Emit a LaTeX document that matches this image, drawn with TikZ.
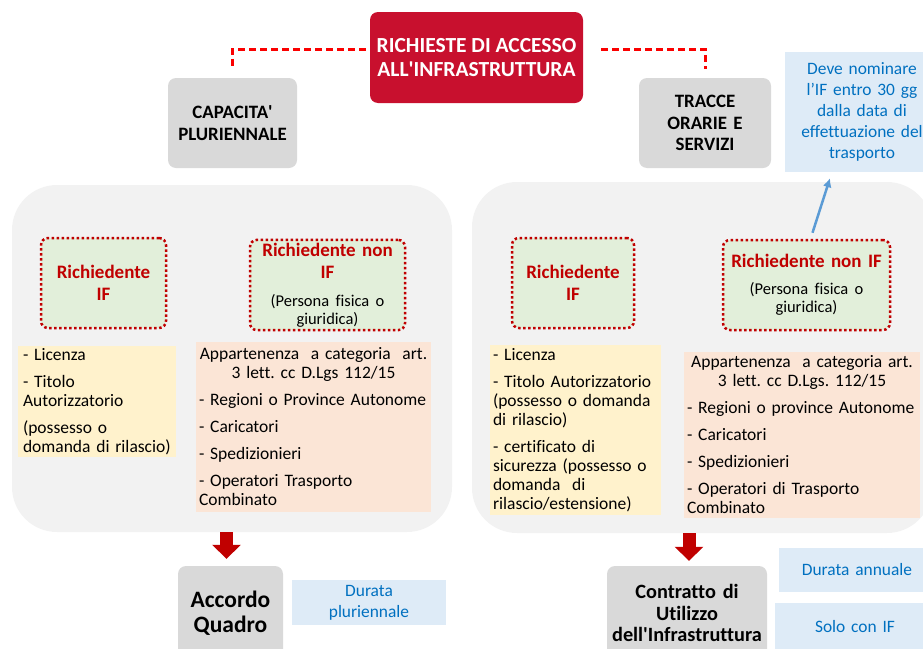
\documentclass[tikz,border=0pt]{standalone}
\usepackage{fontspec}
\setmainfont{Carlito}[Ligatures=NoCommon]
\usetikzlibrary{arrows.meta}
\frenchspacing
\hyphenpenalty=10000
\exhyphenpenalty=10000

\definecolor{titlered}{RGB}{200,16,46}
\definecolor{linkred}{RGB}{250,0,0}
\definecolor{dred}{RGB}{192,0,0}
\definecolor{boxgray}{RGB}{217,217,217}
\definecolor{panelgray}{RGB}{242,242,242}
\definecolor{richfill}{RGB}{226,239,218}
\definecolor{yellowfill}{RGB}{255,242,204}
\definecolor{peachfill}{RGB}{251,229,214}
\definecolor{notefill}{RGB}{222,235,247}
\definecolor{notetext}{RGB}{0,112,192}
\definecolor{arrowblue}{RGB}{91,155,213}

\begin{document}
\begin{tikzpicture}[x=1pt,y=-1pt,
    panel/.style={fill=panelgray,rounded corners=45pt},
    graybox/.style={fill=boxgray,rounded corners=8pt,align=center,inner xsep=2pt},
    richbox/.style={draw=dred,line width=2.5pt,dash pattern=on 2.5pt off 2.5pt,
        rounded corners=7pt,fill=richfill,align=center,text=dred,
        font=\fontsize{19}{21.5}\selectfont\bfseries},
    listbox/.style={inner xsep=3pt,inner ysep=2pt,align=left,
        font=\fontsize{17.5}{19}\selectfont},
    notebox/.style={fill=notefill,text=notetext,align=center,inner xsep=2pt,
        font=\fontsize{17.4}{21}\selectfont},
    link/.style={draw=linkred,line width=3pt,dash pattern=on 7pt off 4pt},
    tonote/.style={draw=arrowblue,line width=2.5pt,-{Latex[length=9pt,width=9pt]}},
    down/.style={draw=dred,line width=13pt,-{Triangle[length=14pt,width=28pt]}}]
\useasboundingbox (0,0) rectangle (923,648);

% panels
\node[panel,minimum width=440pt,minimum height=347pt] (pL) at (232,358.5) {};
\node[panel,minimum width=460pt,minimum height=351pt] (pR) at (702,357.5) {};

% top
\node[fill=titlered,rounded corners=8pt,minimum width=213pt,minimum height=91pt,
    text=white,align=center,font=\fontsize{21.5}{24}\selectfont\bfseries]
    (title) at (476.5,57.5) {RICHIESTE DI ACCESSO\\ALL\textquotesingle INFRASTRUTTURA};
\node[graybox,minimum width=129pt,minimum height=90pt,text width=125pt,
    font=\fontsize{18.9}{22}\selectfont\bfseries]
    (cap) at (232.5,123) {CAPACITA\textquotesingle\\PLURIENNALE};
\node[graybox,minimum width=132pt,minimum height=90pt,text width=128pt,
    font=\fontsize{18.9}{21.5}\selectfont\bfseries]
    (tracce) at (705,123) {TRACCE\\ORARIE E\\SERVIZI};
\node[notebox,minimum width=154pt,minimum height=120pt,text width=150pt]
    (note) at (862,112) {Deve nominare\\l’IF entro 30 gg\\dalla data di\\effettuazione del\\trasporto};

\draw[link,shorten <=4pt] ([yshift=8.5pt]title.west) -| ([yshift=9pt]cap.north);
\draw[link,shorten <=18pt] ([yshift=8.5pt]title.east) -| ([yshift=9pt]tracce.north);

% left panel
\node[richbox,minimum width=125pt,minimum height=90pt,text width=115pt]
    (rifL) at (103.5,283) {Richiedente\\IF};
\node[richbox,minimum width=155pt,minimum height=90pt,text width=145pt]
    (rnifL) at (327.5,285) {Richiedente non\\IF\par\vspace{10pt}
    {\normalfont\fontsize{16.5}{18}\selectfont\color{black}(Persona fisica o\\giuridica)\par}};
\node[listbox,fill=yellowfill,minimum width=158pt,minimum height=111pt,text width=152pt]
    (reqL) at (97,401.5) {\hspace*{2pt}- Licenza\\[8pt]\hspace*{2pt}- Titolo\\\hspace*{2pt}Autorizzatorio\\[8pt]\hspace*{2pt}(possesso o\\\hspace*{2pt}domanda di rilascio)};
\node[listbox,fill=peachfill,minimum width=235pt,minimum height=170pt,text width=229pt]
    (catL) at (313.5,427) {{\centering Appartenenza\ \ a categoria\ \ art.\\3 lett. cc D.Lgs 112/15\par}\vspace{8pt}%
    - Regioni o Province Autonome\\[8pt]- Caricatori\\[8pt]- Spedizionieri\\[8pt]- Operatori Trasporto\\Combinato};

% right panel
\node[richbox,minimum width=122pt,minimum height=90pt,text width=112pt]
    (rifR) at (573,283) {Richiedente\\IF};
\node[richbox,minimum width=167pt,minimum height=90pt,text width=157pt]
    (rnifR) at (806.5,285) {Richiedente non IF\par\vspace{9pt}
    {\normalfont\fontsize{16.5}{18}\selectfont\color{black}(Persona fisica o\\giuridica)\par}};
\node[listbox,fill=yellowfill,minimum width=171pt,minimum height=170pt,text width=165pt]
    (reqR) at (575.5,430) {- Licenza\\[8pt]- Titolo Autorizzatorio\\(possesso o domanda\\di rilascio)\\[8pt]%
    - certificato di\\sicurezza (possesso o\\domanda\ \ di\\rilascio/estensione)};
\node[listbox,fill=peachfill,minimum width=236pt,minimum height=166pt,text width=230pt]
    (catR) at (802,435) {{\centering Appartenenza\ \ a categoria art.\\3 lett. cc D.Lgs. 112/15\par}\vspace{8pt}%
    - Regioni o province Autonome\\[8pt]- Caricatori\\[8pt]- Spedizionieri\\[8pt]- Operatori di Trasporto\\Combinato};

\draw[tonote] ([xshift=6pt,yshift=6pt]rnifR.north) -- ([xshift=-32pt,yshift=-6pt]note.south);

% bottom
\node[graybox,minimum width=105pt,minimum height=94pt,text width=101pt,
    font=\fontsize{23.5}{25}\selectfont\bfseries]
    (acc) at (230.5,613) {Accordo\\Quadro};
\node[graybox,minimum width=160pt,minimum height=94pt,text width=156pt,
    font=\fontsize{20.3}{21.5}\selectfont\bfseries]
    (con) at (687,613) {Contratto di\\Utilizzo\\dell\textquotesingle Infrastruttura};
\node[notebox,minimum width=154pt,minimum height=45pt,text width=150pt]
    (durP) at (369,602.5) {Durata\\pluriennale};
\node[notebox,minimum width=156pt,minimum height=44pt,text width=152pt]
    (durA) at (857,570) {Durata annuale};
\node[notebox,minimum width=160pt,minimum height=47pt,text width=156pt]
    (solo) at (855,626.5) {Solo con IF};

\draw[down] ([xshift=-4pt]acc.north |- pL.south) -- ([xshift=-4pt,yshift=7pt]acc.north);
\draw[down] ([xshift=2pt]con.north |- pR.south) -- ([xshift=2pt,yshift=5pt]con.north);
\end{tikzpicture}
\end{document}
